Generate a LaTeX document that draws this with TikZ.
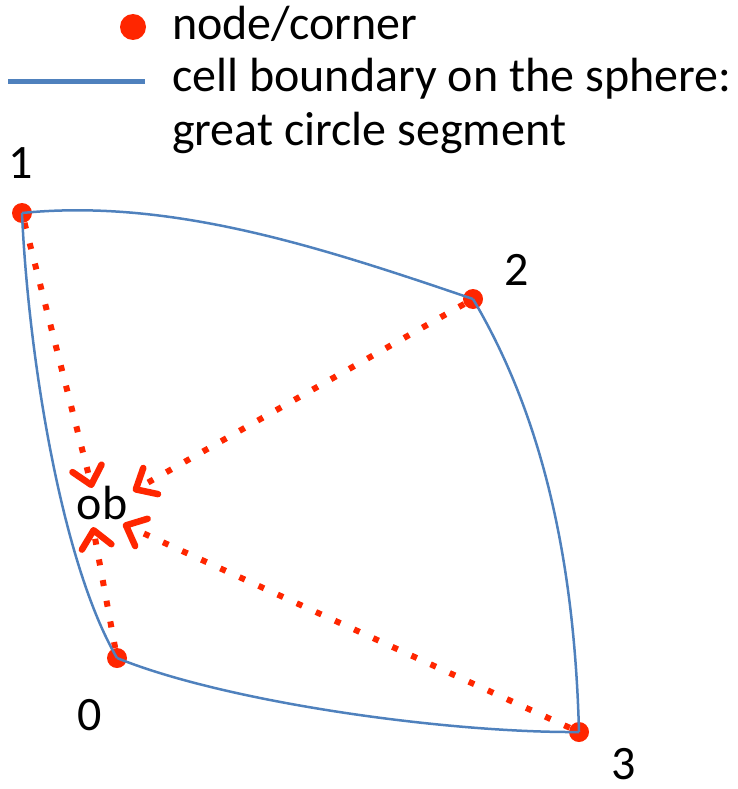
\documentclass[tikz,border=0pt]{standalone}
\usepackage{fontspec}
\setmainfont{Carlito}
\usetikzlibrary{arrows.meta}
\definecolor{dotred}{RGB}{255,38,0}
\definecolor{cellblue}{RGB}{79,129,189}
\tikzset{
  corner/.style={circle, fill=dotred, minimum size=20pt, inner sep=0pt},
  lbl/.style={anchor=base, inner sep=0pt, font=\fontsize{48}{56}\selectfont},
  legtext/.style={anchor=base west, inner sep=0pt, font=\fontsize{48}{56}\selectfont},
  boundary/.style={draw=cellblue, line width=2.5pt},
  toob/.style={draw=dotred, line width=6pt, dash pattern=on 6pt off 15pt,
    -{Straight Barb[length=17pt, width=30pt, line width=6.5pt, round]}}
}
\begin{document}
\begin{tikzpicture}[x=1pt, y=-1pt]
\useasboundingbox (0,0) rectangle (737,789);
% legend
\node[circle, fill=dotred, minimum width=24pt, minimum height=26pt, inner sep=0pt] (legdot) at (133,27) {};
\node[legtext] (leg1) at (172,40) {node/corner};
\coordinate (lla) at (8,82);
\coordinate (llb) at (145,82);
\draw[draw=cellblue, line width=5pt] (lla) -- (llb);
\node[legtext] (leg2) at (172,92) {cell boundary on the sphere:};
\node[legtext] (leg3) at (172,145) {great circle segment};
% corners
\node[corner] (c1) at (22,213) {};
\node[corner] (c2) at (473,299) {};
\node[corner] (c0) at (117,658) {};
\node[corner] (c3) at (579,732) {};
% labels
\node[lbl] (l1) at (21,178) {1};
\node[lbl] (l2) at (517,285) {2};
\node[lbl] (l0) at (90,730) {0};
\node[lbl] (l3) at (624,779) {3};
\node[lbl] (ob) at (102,519) {ob};
% arrow tips
\coordinate (t1) at (92,488);
\coordinate (t2) at (133,491);
\coordinate (t3) at (123,524);
\coordinate (t0) at (93,527);
\draw[toob] (c1) -- (t1);
\draw[toob] (c2) -- (t2);
\draw[toob] (c3) -- (t3);
\draw[toob] (c0) -- (t0);
% cell boundary
\draw[boundary] (c1.center) .. controls (172,198) and (323,248) .. (c2.center);
\draw[boundary] (c2.center) .. controls (550,429) and (575,582) .. (c3.center);
\draw[boundary] (c0.center) .. controls (228,703) and (449,733) .. (c3.center);
\draw[boundary] (c1.center) .. controls (28,350) and (60,560) .. (c0.center);
\end{tikzpicture}
\end{document}
